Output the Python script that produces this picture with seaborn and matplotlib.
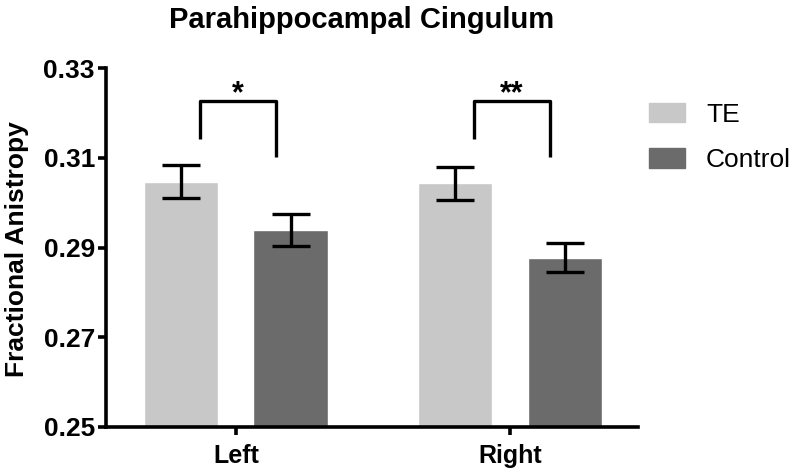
import matplotlib
matplotlib.use("Agg")
import matplotlib.pyplot as plt
import seaborn as sns
import pandas as pd
import numpy as np

# values
sides = ["Left", "Right"]
groups = ["TE", "Control"]
te_mean = [0.3047, 0.3043]
te_sem = [0.0037, 0.0037]
ctrl_mean = [0.2939, 0.2877]
ctrl_sem = [0.0035, 0.0032]
stars = ["*", "**"]

colors = {"TE": "#c8c8c8", "Control": "#6b6b6b"}

df = pd.DataFrame({
    "side": sides * 2,
    "group": ["TE"] * 2 + ["Control"] * 2,
    "fa": te_mean + ctrl_mean,
})

sns.set_style("ticks")
plt.rcParams["font.family"] = ["Liberation Sans", "DejaVu Sans"]
plt.rcParams.update({"text.color": "black", "axes.labelcolor": "black",
                     "xtick.color": "black", "ytick.color": "black",
                     "axes.edgecolor": "black"})

W, H = 793, 471
fig = plt.figure(figsize=(W / 100, H / 100), dpi=100)
ax = fig.add_axes([106 / W, 44 / H, 532 / W, 359 / H])

sns.barplot(data=df, x="side", y="fa", hue="group", hue_order=groups,
            palette=colors, errorbar=None, width=0.8, gap=0.32, ax=ax,
            saturation=1, legend=True)

# error bars (SEM)
offs = {"TE": -0.2, "Control": 0.2}
for g, m, s in [("TE", te_mean, te_sem), ("Control", ctrl_mean, ctrl_sem)]:
    xs = np.arange(len(sides)) + offs[g]
    ax.errorbar(xs, m, yerr=s, fmt="none", ecolor="black", elinewidth=2.4,
                capsize=14, capthick=2.4, zorder=5)

# significance brackets
for i, st in enumerate(stars):
    x0, x1 = i - 0.13, i + 0.145
    ax.plot([x0, x0, x1, x1], [0.3141, 0.3226, 0.3226, 0.3101],
            color="black", lw=2.4, solid_capstyle="butt", clip_on=False)
    ax.text((x0 + x1) / 2, 0.3241, st, ha="center", va="center",
            fontsize=22, fontweight="bold")

ax.set_ylim(0.25, 0.33)
ax.set_xlim(-0.474, 1.467)
ax.set_yticks([0.25, 0.27, 0.29, 0.31, 0.33])
ax.set_yticklabels(["0.25", "0.27", "0.29", "0.31", "0.33"])
ax.tick_params(axis="y", labelsize=19, width=2.6, length=6, pad=2)
ax.tick_params(axis="x", labelsize=18, width=2.6, length=6, pad=6)
for lab in ax.get_yticklabels() + ax.get_xticklabels():
    lab.set_fontweight("bold")
ax.set_xlabel("")
ax.set_ylabel("Fractional Anistropy", fontsize=19, fontweight="bold")
ax.yaxis.set_label_coords((29 - 106) / 532, (427 - 249) / 359)
sns.despine(ax=ax)
for sp in ["left", "bottom"]:
    ax.spines[sp].set_linewidth(2.6)

ax.get_legend().remove()
handles = [plt.Rectangle((0, 0), 1, 1, color=colors[g]) for g in groups]
fig.legend(handles, groups, loc="upper left",
           bbox_to_anchor=(649 / W, 1 - 103 / H), bbox_transform=fig.transFigure,
           frameon=False, fontsize=19, handlelength=1.36, handleheight=0.75,
           labelspacing=0.8, handletextpad=0.8, borderpad=0, borderaxespad=0)

fig.text(362 / W, 1 - 20 / H, "Parahippocampal Cingulum", ha="center",
         va="center", fontsize=21, fontweight="bold")

fig.savefig("out.png", dpi=100)
